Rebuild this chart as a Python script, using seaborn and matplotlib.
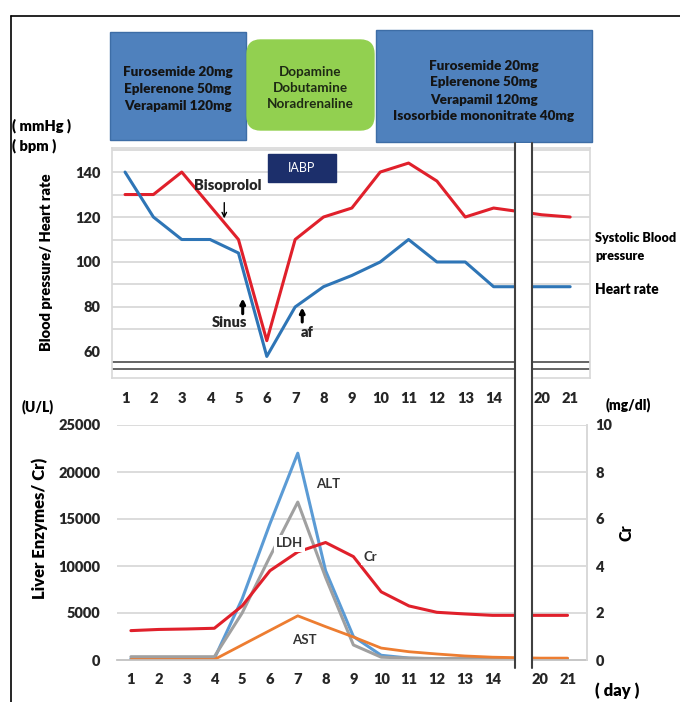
import numpy as np
import pandas as pd
import seaborn as sns
import matplotlib.pyplot as plt
from matplotlib.patches import Rectangle, FancyBboxPatch
from matplotlib.lines import Line2D
from matplotlib import transforms

# hospital days (axis is broken between 14 and 20)
days = [1, 2, 3, 4, 5, 6, 7, 8, 9, 10, 11, 12, 13, 14, 20, 21]
day_labels = [str(d) for d in days]

# top panel
sbp = [130, 130, 140, 125, 110, 65, 110, 120, 124, 140, 144, 136, 120, 124, 121, 120]
hr = [140, 120, 110, 110, 104, 58, 80, 89, 94, 100, 110, 100, 100, 89, 89, 89]

# bottom panel (U/L) and creatinine (mg/dl)
alt = [150, 150, 150, 150, 6500, 14500, 22000, 9500, 2500, 500, 200, 120, 100, 100, 100, 100]
ldh = [350, 350, 350, 350, 5000, 11000, 16800, 8800, 1600, 300, 200, 150, 150, 150, 150, 150]
ast = [50, 50, 50, 50, 1600, 3150, 4700, 3550, 2450, 1270, 880, 640, 430, 300, 200, 200]
cr = [1.25, 1.3, 1.32, 1.35, 2.3, 3.8, 4.6, 5.0, 4.4, 2.9, 2.3, 2.03, 1.96, 1.9, 1.9, 1.9]

drugs_1 = "Furosemide 20mg\nEplerenone 50mg\nVerapamil 120mg"
drugs_2 = "Dopamine\nDobutamine\nNoradrenaline"
drugs_3 = "Furosemide 20mg\nEplerenone 50mg\nVerapamil 120mg\nIsosorbide mononitrate 40mg"

sns.set_theme(style="white")
plt.rcParams['font.family'] = ['Lato', 'DejaVu Sans']
BW = 'heavy'

W, H = 680, 702
fx = lambda px: px / W
fy = lambda py: 1 - py / H

# squeeze the 14 -> 20 gap
pos = np.array([d if d <= 14 else d - 4.3 for d in days])
XLIM = (0.54, 17.4)

fig = plt.figure(figsize=(W / 100, H / 100), dpi=100)

# ---- top panel
ax1 = fig.add_axes([fx(112), fy(378), (590 - 112) / W, (378 - 148) / H])
for v in range(70, 151, 10):
    ax1.axhline(v, color='#d9d9d9', lw=1.3, zorder=0)
ax1.axhline(55.7, color='#595959', lw=1.3, zorder=1)
ax1.axhline(52.4, color='#595959', lw=1.3, zorder=1)
sns.lineplot(x=pos, y=sbp, ax=ax1, color='#e0202b', lw=2.2, zorder=3)
sns.lineplot(x=pos, y=hr, ax=ax1, color='#2e75b6', lw=2.2, zorder=3)
ax1.set_xlim(*XLIM)
ax1.set_ylim(48.4, 150.7)
ax1.set_yticks([60, 80, 100, 120, 140])
ax1.set_xticks(pos, day_labels)
ax1.tick_params(axis='both', length=0, labelsize=10.5)
ax1.tick_params(axis='x', pad=10)
ax1.tick_params(axis='y', pad=8.5)
for lab in ax1.get_xticklabels() + ax1.get_yticklabels():
    lab.set_fontweight(BW)
for s in ax1.spines.values():
    s.set_color('#d9d9d9')
ax1.set_xlabel('')
ax1.set_ylabel('')

ax1.add_patch(Rectangle((6.03, 135.4), 2.41, 12.6, color='#1c2f6b', zorder=4))
ax1.text(7.24, 141.7, 'IABP', color='white', ha='center', va='center', fontsize=9, zorder=5)
ax1.text(4.64, 134.2, 'Bisoprolol', ha='center', va='center', fontsize=10.5, weight=BW, zorder=5)
ax1.annotate('', xy=(4.5, 119.4), xytext=(4.5, 126.4),
             arrowprops=dict(arrowstyle='->', color='black', lw=1, shrinkA=0, shrinkB=0,
                             mutation_scale=8))
up = dict(arrowstyle='-|>', color='black', lw=2.2, shrinkA=0, shrinkB=0, mutation_scale=7)
ax1.text(4.67, 73.1, 'Sinus', ha='center', va='center', fontsize=10.5, weight=BW)
ax1.annotate('', xy=(5.15, 83.8), xytext=(5.15, 77.0), arrowprops=up)
ax1.text(7.41, 68.7, 'af', ha='center', va='center', fontsize=10.5, weight=BW)
ax1.annotate('', xy=(7.25, 79.8), xytext=(7.25, 73.3), arrowprops=up)

# ---- bottom panel
ax2 = fig.add_axes([fx(117), fy(660), (587 - 117) / W, (660 - 425) / H])
for v in range(5000, 25001, 5000):
    ax2.axhline(v, color='#d9d9d9', lw=1.3, zorder=0)
sns.lineplot(x=pos, y=alt, ax=ax2, color='#5b9bd5', lw=2.2)
sns.lineplot(x=pos, y=ldh, ax=ax2, color='#a0a0a0', lw=2.2)
sns.lineplot(x=pos, y=ast, ax=ax2, color='#ed7d31', lw=2.0)
ax2.set_xlim(*XLIM)
ax2.set_ylim(0, 25000)
ax2.set_yticks(range(0, 25001, 5000))
ax2.set_xticks(pos, day_labels)
ax2.set_xticks(list(pos - 0.5) + [pos[-1] + 0.5], minor=True)
ax2.tick_params(axis='both', which='major', length=0, labelsize=10.5)
ax2.tick_params(axis='x', which='major', pad=9)
ax2.tick_params(axis='x', which='minor', length=4, color='#bfbfbf', width=1)
ax2.tick_params(axis='y', pad=12)
for lab in ax2.get_xticklabels() + ax2.get_yticklabels():
    lab.set_fontweight(BW)
ax2.spines['left'].set_visible(False)
ax2.spines['top'].set_visible(False)
ax2.spines['bottom'].set_color('#bfbfbf')
ax2.spines['right'].set_color('#d9d9d9')
ax2.set_xlabel('')
ax2.set_ylabel('')

ax3 = ax2.twinx()
sns.lineplot(x=pos, y=cr, ax=ax3, color='#e0202b', lw=2.2)
ax3.set_ylim(0, 10)
ax3.set_yticks(range(0, 11, 2))
ax3.tick_params(axis='y', length=0, labelsize=10.5, pad=6)
for lab in ax3.get_yticklabels():
    lab.set_fontweight(BW)
for k in ['left', 'top', 'bottom']:
    ax3.spines[k].set_visible(False)
ax3.spines['right'].set_color('#d9d9d9')
ax3.set_ylabel('')

box = dict(facecolor='white', edgecolor='none', pad=1.5)
for x, y, s in [(8.1, 18700, 'ALT'), (6.7, 12400, 'LDH'), (9.6, 10950, 'Cr'), (7.25, 2100, 'AST')]:
    ax3.text(x, y, s, transform=ax2.transData, ha='center', va='center',
             fontsize=9.5, weight='bold', color='#333333', bbox=box, zorder=6)

# ---- axis titles and units
bold = dict(weight=BW, color='black')
fig.text(fx(12), fy(126), '( mmHg )', ha='left', va='center', fontsize=10.5, **bold)
fig.text(fx(12), fy(146), '( bpm )', ha='left', va='center', fontsize=10.5, **bold)
fig.text(fx(47), fy(262), 'Blood pressure/ Heart rate', rotation=90, ha='center', va='center', fontsize=10.5, **bold)
fig.text(fx(595), fy(247), 'Systolic Blood\npressure', ha='left', va='center', fontsize=9.1, linespacing=1.5, **bold)
fig.text(fx(595), fy(290), 'Heart rate', ha='left', va='center', fontsize=9.8, **bold)
fig.text(fx(22), fy(407), '(U/L)', ha='left', va='center', fontsize=10, **bold)
fig.text(fx(40), fy(528), 'Liver Enzymes/ Cr)', rotation=90, ha='center', va='center', fontsize=12, **bold)
fig.text(fx(606), fy(405), '(mg/dl)', ha='left', va='center', fontsize=10, **bold)
fig.text(fx(627), fy(533), 'Cr', rotation=90, ha='center', va='center', fontsize=11.5, **bold)
fig.text(fx(595), fy(691), '( day )', ha='left', va='center', fontsize=12, **bold)

# ---- treatment boxes
fig.add_artist(Rectangle((fx(110), fy(140)), 136 / W, 108 / H, transform=fig.transFigure,
                         facecolor='#4f81bd', edgecolor='#3d6da6', lw=1))
fig.text(fx(178), fy(89), drugs_1, ha='center', va='center', fontsize=9.7, weight=BW,
         color='#141414', linespacing=1.45)
fig.add_artist(FancyBboxPatch((fx(247), fy(130)), 127 / W, 90 / H, transform=fig.transFigure,
                              boxstyle='round,pad=0,rounding_size=0.02',
                              facecolor='#92d050', edgecolor='#92d050'))
fig.text(fx(310), fy(88), drugs_2, ha='center', va='center', fontsize=9.7, weight='bold',
         color='#1e2a14', linespacing=1.45)
fig.add_artist(Rectangle((fx(376), fy(142)), 216 / W, 112 / H, transform=fig.transFigure,
                         facecolor='#4f81bd', edgecolor='#3d6da6', lw=1))
fig.text(fx(484), fy(91), drugs_3, ha='center', va='center', fontsize=9.7, weight=BW,
         color='#141414', linespacing=1.5)

# ---- axis break strip through both panels
tr = transforms.blended_transform_factory(ax1.transData, fig.transFigure)
b0, b1 = 14.76, 15.36
fig.add_artist(Rectangle((b0, fy(668)), b1 - b0, fy(143) - fy(668), transform=tr,
                         facecolor='white', edgecolor='none', zorder=5))
for b in (b0, b1):
    fig.add_artist(Line2D([b, b], [fy(668), fy(143)], transform=tr, color='#404040', lw=1.5, zorder=6))

# outer frame
fig.add_artist(Line2D([fx(11), fx(11)], [fy(16), 0], color='black', lw=1.2))
fig.add_artist(Line2D([fx(11), 1], [fy(16), fy(16)], color='black', lw=1.2))

fig.savefig('out.png', dpi=100)
